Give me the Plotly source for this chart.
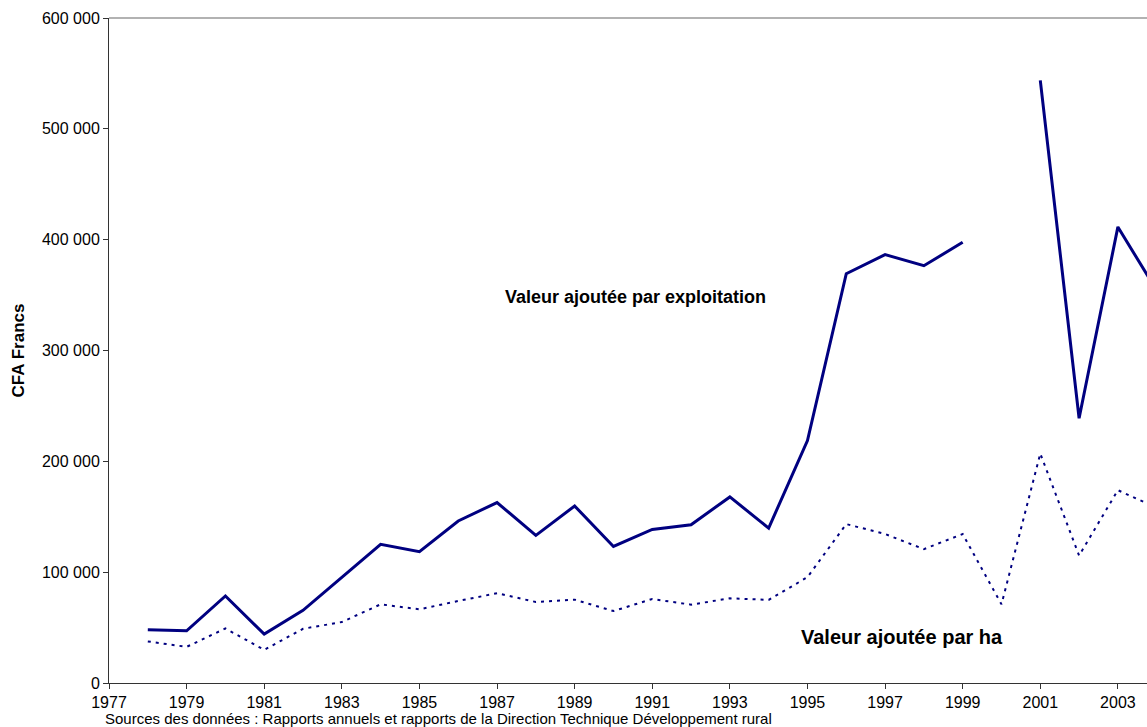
import plotly.graph_objects as go

years = list(range(1978, 2005))
va_exploitation = [48000, 47100, 78500, 44100, 65600, 95200, 125100, 118400, 146200, 162800,
                   133200, 159700, 123200, 138600, 142800, 167900, 139800, 218800, 369300, 386500,
                   376500, 397600, None, 543700, 238900, 411500, 354000]
va_ha = [37500, 32600, 49200, 29900, 48900, 55000, 71000, 66500, 74000, 81000,
         73100, 75200, 64900, 75800, 70700, 76400, 75000, 95500, 143400, 134400,
         120800, 134400, 71000, 207000, 115000, 174000, 158000]

tick_years = list(range(1977, 2004, 2))
y_ticks = [0, 100000, 200000, 300000, 400000, 500000, 600000]
y_tick_labels = ["0", "100 000", "200 000", "300 000", "400 000", "500 000", "600 000"]

label_expl = "Valeur ajoutée par exploitation"
label_ha = "Valeur ajoutée par ha"
source_text = "Sources des données : Rapports annuels et rapports de la Direction Technique Développement rural"

navy = "#000080"
font_family = "Liberation Sans, Arial, sans-serif"

fig = go.Figure()
fig.add_trace(go.Scatter(x=years, y=va_exploitation, mode="lines",
                         line=dict(color=navy, width=3), connectgaps=False,
                         name="exploitation", hoverinfo="skip"))
fig.add_trace(go.Scatter(x=years, y=va_ha, mode="lines",
                         line=dict(color=navy, width=2, dash="3px,5px"),
                         name="ha", hoverinfo="skip"))

fig.update_layout(
    width=1147, height=727,
    margin=dict(l=109, r=0, t=18, b=44),
    paper_bgcolor="white", plot_bgcolor="white",
    showlegend=False,
    font=dict(family=font_family, size=16, color="black"),
    xaxis=dict(range=[1977, 2003.75], tickvals=tick_years, ticktext=[str(t) for t in tick_years],
               showgrid=False, zeroline=False, showline=True, linecolor="#333333", linewidth=1,
               ticks="outside", ticklen=5, tickcolor="#333333",
               tickfont=dict(size=16, family=font_family)),
    yaxis=dict(range=[0, 600000], tickvals=y_ticks, ticktext=y_tick_labels,
               showgrid=False, zeroline=False, showline=True, linecolor="#333333", linewidth=1,
               ticks="outside", ticklen=5, tickcolor="#333333",
               tickfont=dict(size=16, family=font_family),
               title=dict(text="<b>CFA Francs</b>", font=dict(size=17, family=font_family), standoff=13)),
    shapes=[dict(type="line", xref="paper", yref="paper", x0=0, x1=1, y0=1, y1=1,
                 line=dict(color="#999999", width=1.5))],
    annotations=[
        dict(x=1990.56, y=348700, xref="x", yref="y", text="<b>" + label_expl + "</b>",
             showarrow=False, font=dict(size=18, family=font_family, color="black")),
        dict(x=1997.44, y=41900, xref="x", yref="y", text="<b>" + label_ha + "</b>",
             showarrow=False, font=dict(size=20, family=font_family, color="black")),
        dict(x=-0.0058, y=-0.054, xref="paper", yref="paper", xanchor="left", yanchor="middle",
             text=source_text, showarrow=False,
             font=dict(size=15, family=font_family, color="black")),
    ],
)

post = ("document.documentElement.style.margin='0';document.documentElement.style.overflow='hidden';"
        "document.body.style.margin='0';document.body.style.overflow='hidden';")
fig.write_html("out.html", post_script=post, config={"displayModeBar": False})
